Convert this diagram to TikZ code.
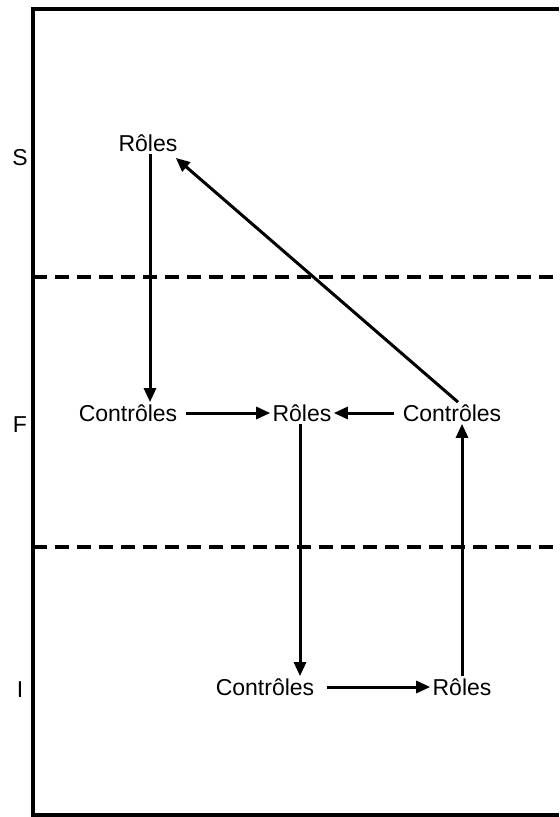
\documentclass[tikz,border=0pt]{standalone}
\usepackage{fontspec}
\setmainfont{Liberation Sans}
\usetikzlibrary{positioning,arrows.meta}

\begin{document}
\begin{tikzpicture}[x=0.5pt, y=-0.5pt, font=\fontsize{11.5}{13}\selectfont,
    lvl/.style={inner sep=1pt},
    fl/.style={line width=1.5pt, -{Triangle[length=7pt,width=6pt]}},
    sep/.style={line width=1.6pt, dash pattern=on 7pt off 4pt}]
  \useasboundingbox (0,0) rectangle (559,817);
  % frame
  \draw[line width=1.7pt] (559,9) -- (33,9) -- (33,815) -- (559,815);
  % level separators
  \draw[sep] (33,277) -- (559,277);
  \draw[sep] (33,547) -- (559,547);
  % level names
  \node[lvl] (ls) at (20,158) {S};
  \node[lvl] (lf) at (20,425) {F};
  \node[lvl] (li) at (20,690) {I};
  % S level
  \node[lvl] (rs) at (148,143) {Rôles};
  % F level
  \node[lvl] (cl) at (128,413) {Contrôles};
  \node[lvl] (rm) at (302,413) {Rôles};
  \node[lvl] (cr) at (452,413) {Contrôles};
  % I level
  \node[lvl] (cb) at (265,687) {Contrôles};
  \node[lvl] (rb) at (462,687) {Rôles};
  % links
  \draw[fl] ([xshift=1pt]rs.south) -- ([xshift=1pt]rs.south |- cl.north);
  \draw[fl] ([xshift=3pt]cl.east) -- (rm.west);
  \draw[fl] ([xshift=-3pt]cr.west) -- (rm.east);
  \draw[fl] ([xshift=3pt]cr.north) -- ([xshift=-2pt,yshift=-2pt]rs.south east);
  \draw[fl] ([xshift=-1pt]rm.south) -- ([xshift=-1pt]rm.south |- cb.north);
  \draw[fl] ([xshift=5pt]cb.east) -- (rb.west);
  \draw[fl] (rb.north) -- (rb.north |- cr.south);
\end{tikzpicture}
\end{document}
